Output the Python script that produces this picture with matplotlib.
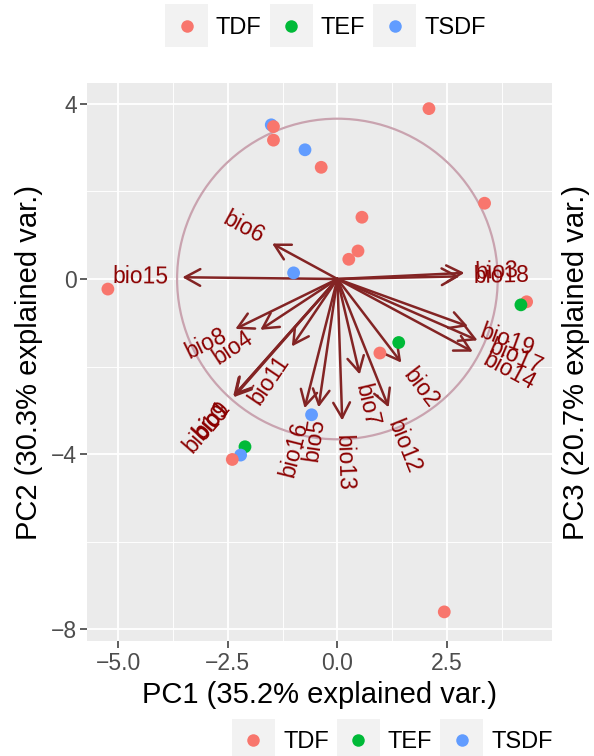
import numpy as np
import matplotlib
matplotlib.use("Agg")
import matplotlib.pyplot as plt
from matplotlib.patches import FancyArrowPatch, Circle, Rectangle
from matplotlib.font_manager import FontProperties

FONT = "Liberation Sans"
plt.rcParams.update({"font.family": FONT})

# sample scores (row order kept so overlaps stack like the reference)
pc1 = [2.09, 3.36, 0.56, -0.37, -0.74, -1.51, -1.46, -1.46, 0.47, 0.26, -5.24, 4.32, 4.19,
       1.40, 0.97, 2.44, -1.00, -0.59, -2.11, -2.21, -2.40]
pc2 = [3.89, 1.73, 1.41, 2.55, 2.95, 3.52, 3.48, 3.17, 0.64, 0.45, -0.23, -0.52, -0.59,
       -1.45, -1.69, -7.60, 0.14, -3.10, -3.83, -4.02, -4.12]
group = ["TDF", "TDF", "TDF", "TDF", "TSDF", "TSDF", "TDF", "TDF", "TDF", "TDF", "TDF", "TDF", "TEF",
         "TEF", "TDF", "TDF", "TSDF", "TSDF", "TEF", "TSDF", "TDF"]

# variable loadings (arrow tips)
var_names = ["bio1", "bio2", "bio3", "bio4", "bio5", "bio6", "bio7", "bio8", "bio9", "bio10",
             "bio11", "bio12", "bio13", "bio14", "bio15", "bio16", "bio17", "bio18", "bio19"]
var_x = [-2.36, 1.46, 2.90, -1.76, -0.43, -1.49, 0.51, -2.33, -2.38, -2.37,
         -1.04, 1.17, 0.11, 3.09, -3.54, -0.75, 3.20, 2.79, 2.98]
var_y = [-2.66, -1.91, 0.14, -1.16, -2.93, 0.81, -2.18, -1.14, -2.68, -2.70,
         -1.54, -2.93, -3.23, -1.66, 0.04, -2.95, -1.40, 0.06, -1.08]

groups = ["TDF", "TEF", "TSDF"]
colors = {"TDF": "#F8766D", "TEF": "#00BA38", "TSDF": "#619CFF"}
circle_r = 3.66

W, H, DPI = 594, 756, 100
L, R, T, B = 87, 552, 83, 641
fig = plt.figure(figsize=(W / DPI, H / DPI), dpi=DPI)
ax = fig.add_axes([L / W, 1 - B / H, (R - L) / W, (B - T) / H])
ax.set_facecolor("#EBEBEB")
x0, px = 337.4, 43.8
ax.set_xlim((L - x0) / px, (R - x0) / px)
ax.set_ylim((279 - B) / px, (279 - T) / px)

ax.set_xticks([-5, -2.5, 0, 2.5]); ax.set_xticklabels(["\u22125.0", "\u22122.5", "0.0", "2.5"])
ax.set_yticks([-8, -4, 0, 4]); ax.set_yticklabels(["\u22128", "\u22124", "0", "4"])
ax.set_xticks([-3.75, -1.25, 1.25, 3.75], minor=True)
ax.set_yticks([-6, -2, 2], minor=True)
ax.grid(True, which="major", color="white", lw=1.3)
ax.grid(True, which="minor", color="white", lw=0.65)
ax.set_axisbelow(True)
for s in ax.spines.values(): s.set_visible(False)
ax.tick_params(which="major", length=5, width=1.1, color="#333333", labelsize=16.5, labelcolor="#4D4D4D", pad=3)
ax.tick_params(axis="y", pad=2)
ax.tick_params(which="minor", length=0)

# circle, arrows, points, labels
ax.add_patch(Circle((0, 0), circle_r, fill=False, ec="#C9A3AF", lw=1.6, zorder=2))
for vx, vy in zip(var_x, var_y):
    ax.add_patch(FancyArrowPatch((0, 0), (vx, vy), arrowstyle="->,head_length=0.55,head_width=0.3",
                                 mutation_scale=20, color="#832424", lw=1.8, shrinkA=0, shrinkB=0, zorder=3))
ax.scatter(pc1, pc2, c=[colors[g] for g in group], s=85, lw=0, zorder=4)

rend = fig.canvas.get_renderer()
fp = FontProperties(family=FONT, size=16.5)
for name, vx, vy in zip(var_names, var_x, var_y):
    ang = np.degrees(np.arctan(vy / vx))
    w = rend.get_text_width_height_descent(name, fp, ismath=False)[0] * 72 / DPI
    sgn = 1 if vx > 0 else -1
    off = 0.25 * w * sgn
    ax.annotate(name, (vx, vy), xytext=(off * np.cos(np.radians(ang)), off * np.sin(np.radians(ang))),
                textcoords="offset points", rotation=ang, rotation_mode="anchor",
                ha="left" if vx > 0 else "right", va="center", color="darkred",
                fontproperties=fp, zorder=5)

ax.set_xlabel("PC1 (35.2% explained var.)", fontsize=21, labelpad=4)
ax.set_ylabel("PC2 (30.3% explained var.)", fontsize=21, labelpad=6)
fig.text(576 / W, 1 - 362 / H, "PC3 (20.7% explained var.)", fontsize=21, rotation=90,
         ha="center", va="center")


def legend(yc, x_start):
    x = x_start
    for g in groups:
        fig.patches.append(Rectangle(((x) / W, 1 - (yc + 21.5) / H), 43 / W, 43 / H,
                                     transform=fig.transFigure, fc="#F2F2F2", ec="none"))
        fig.add_artist(plt.Line2D([(x + 21.5) / W], [1 - yc / H], marker="o", ms=9, mew=0,
                                  color=colors[g], transform=fig.transFigure))
        fig.text((x + 51) / W, 1 - yc / H, g, fontsize=17, ha="left", va="center_baseline")
        tw = rend.get_text_width_height_descent(g, FontProperties(family=FONT, size=17), ismath=False)[0]
        x += 43 + 8 + tw + 8


legend(25.5, 165)
legend(740, 232)

fig.savefig("out.png", dpi=DPI)
